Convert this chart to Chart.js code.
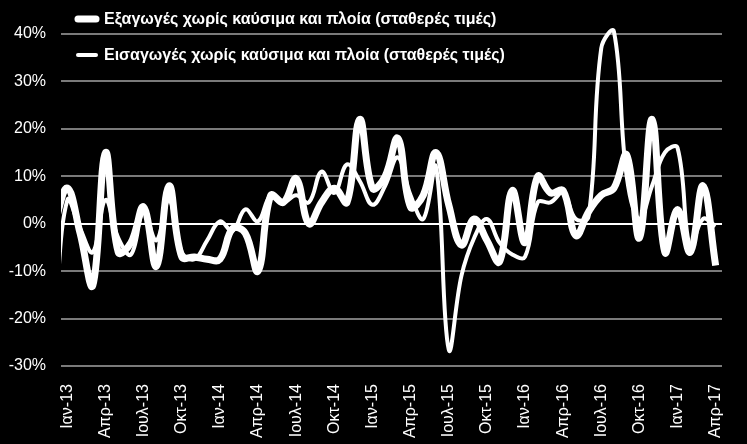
<!DOCTYPE html>
<html>
<head>
<meta charset="utf-8">
<script src="https://cdn.jsdelivr.net/npm/chart.js@4.4.1/dist/chart.umd.min.js"></script>
<style>
  html, body { margin: 0; padding: 0; background: #000; }
  canvas { display: block; }
</style>
</head>
<body>
<canvas id="tradeChart" width="747" height="444"></canvas>
<script>
// months: Dec-12 (only its edge shows, clipped) then Jan-13 .. Apr-17
const monthNames = ['Ιαν', 'Φεβ', 'Μαρ', 'Απρ', 'Μαϊ', 'Ιουν', 'Ιουλ', 'Αυγ', 'Σεπ', 'Οκτ', 'Νοε', 'Δεκ'];
const years = ['13', '14', '15', '16', '17'];
const months = ['Δεκ-12'];
years.forEach(y => monthNames.forEach((m, i) => {
  if (y !== '17' || i < 4) months.push(m + '-' + y);
}));
const firstShown = 'Ιαν-13';

// y/y % change, constant prices
const exportsExFuel = [
  0,
  7.5, -2, -13, 15, -6, -4, 3.5, -9, 8, -7, -7, -7.5,
  -7.5, -1, -2, -10, 6, 4.5, 9.5, 0, 4.5, 7.5, 4.5, 22,
  7.5, 10, 18, 3.5, 6, 15, 4, -4.5, 1, -3.5, -8, 7,
  -4, 10, 6.5, 7, -2.5, 2.5, 6, 7.5, 14.5, -3, 22, -6,
  3, -6, 8, -8.8
];
const importsExFuel = [
  -20,
  5, -1, -6, 5, -3, -6.5, 2.5, -3.5, 5, -6, -7.5, -3.5,
  0.5, -1.5, 3, 0.5, 6, 4.5, 6, 4.5, 11, 6.5, 12.5, 9,
  4, 8, 14, 6, 1, 12, -26.5, -11, -3, 1, -4, -6.5,
  -7, 4.5, 4.5, 6.5, 1, 1.5, 37, 40.5, 10, 1, 8, 15,
  16, -5, 1, -0.5
];

const yTicks = [-30, -20, -10, 0, 10, 20, 30, 40];

const FONT = '"Liberation Sans", Arial, sans-serif';

const blackBackground = {
  id: 'blackBackground',
  beforeDraw(chart) {
    const ctx = chart.ctx;
    ctx.save();
    ctx.fillStyle = '#000';
    ctx.fillRect(0, 0, chart.width, chart.height);
    ctx.restore();
  }
};

// legend sits over the top of the plot, as in the original
const overlayLegend = {
  id: 'overlayLegend',
  afterDraw(chart) {
    const ctx = chart.ctx;
    chart.data.datasets.forEach((ds, i) => {
      const y = 19 + i * 36;
      ctx.save();
      ctx.strokeStyle = ds.borderColor;
      ctx.lineWidth = ds.borderWidth;
      ctx.lineCap = 'round';
      ctx.beginPath();
      ctx.moveTo(78, y);
      ctx.lineTo(96, y);
      ctx.stroke();
      ctx.fillStyle = '#fff';
      ctx.font = 'bold 16px ' + FONT;
      ctx.textBaseline = 'middle';
      ctx.fillText(ds.label, 104, y + 1);
      ctx.restore();
    });
  }
};

new Chart(document.getElementById('tradeChart'), {
  type: 'line',
  data: {
    labels: months,
    datasets: [{
      label: 'Εξαγωγές χωρίς καύσιμα και πλοία (σταθερές τιμές)',
      data: exportsExFuel,
      borderColor: '#ffffff',
      borderWidth: 7,
      tension: 0.4,
      pointRadius: 0,
      clip: { left: 0, right: 0, top: 12, bottom: 12 }
    }, {
      label: 'Εισαγωγές χωρίς καύσιμα και πλοία (σταθερές τιμές)',
      data: importsExFuel,
      borderColor: '#ffffff',
      borderWidth: 4,
      tension: 0.4,
      pointRadius: 0,
      clip: { left: 0, right: 0, top: 12, bottom: 12 }
    }]
  },
  options: {
    responsive: false,
    animation: false,
    layout: { padding: { left: 0, right: 25, top: 34, bottom: 0 } },
    elements: { line: { capBezierPoints: false, borderJoinStyle: 'round' } },
    plugins: {
      legend: { display: false },
      tooltip: { enabled: false }
    },
    scales: {
      x: {
        min: firstShown,
        offset: true,
        grid: { display: false },
        border: { display: false },
        afterFit: s => { s.height = 78; },
        ticks: {
          autoSkip: false,
          maxRotation: 90,
          minRotation: 90,
          padding: 10,
          color: '#ffffff',
          font: { family: FONT, size: 16 },
          callback: (value) => ((value - 1) % 3 === 0 ? months[value] : '')
        }
      },
      y: {
        min: -30,
        max: 40,
        afterFit: s => { s.width = 61; },
        afterBuildTicks: s => { s.ticks = yTicks.map(v => ({ value: v })); },
        border: { display: false },
        grid: {
          drawTicks: false,
          lineWidth: 2,
          color: ctx => (ctx.tick && ctx.tick.value === 0 ? '#ffffff' : '#7a7a7a')
        },
        ticks: {
          padding: 15,
          color: '#ffffff',
          font: { family: FONT, size: 16 },
          callback: v => v + '%'
        }
      }
    }
  },
  plugins: [blackBackground, overlayLegend]
});
</script>
</body>
</html>
